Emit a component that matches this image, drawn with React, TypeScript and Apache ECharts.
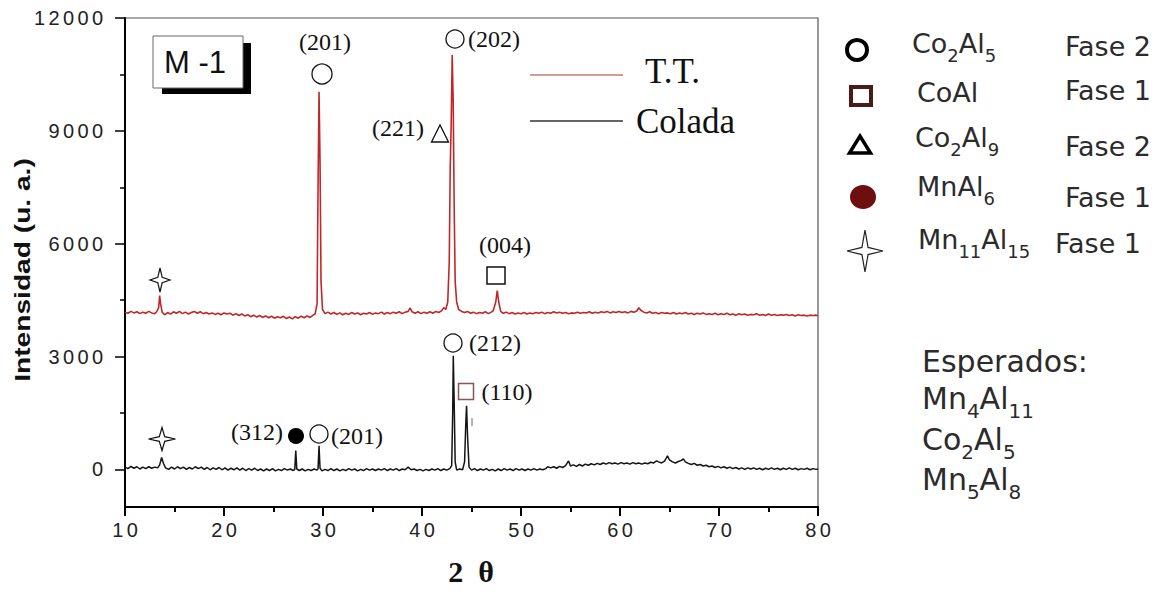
import { useEffect, useRef } from "react";
import * as echarts from "echarts";

// ---- Data ----
const seriesNames = ["T.T.", "Colada"];

const ttPattern: [number, number][] = [
  [10, 4180], [10.3, 4150], [10.6, 4200], [10.9, 4160], [11.2, 4190], [11.5, 4140], [11.8, 4180], [12.1, 4150],
  [12.4, 4200], [12.7, 4160], [13.0, 4140], [13.2, 4190], [13.4, 4300], [13.5, 4620], [13.6, 4400], [13.75, 4180],
  [14.0, 4110], [14.3, 4170], [14.6, 4130], [14.9, 4190], [15.2, 4150], [15.5, 4200], [15.8, 4140], [16.1, 4180],
  [16.4, 4130], [16.7, 4170], [17.0, 4200], [17.3, 4150], [17.6, 4190], [17.9, 4140], [18.2, 4170], [18.5, 4130],
  [18.8, 4160], [19.1, 4120], [19.4, 4150], [19.7, 4110], [20.0, 4160], [20.3, 4130], [20.6, 4150], [20.9, 4100],
  [21.2, 4140], [21.5, 4090], [21.8, 4130], [22.1, 4080], [22.4, 4110], [22.7, 4060], [23.0, 4100], [23.3, 4050],
  [23.6, 4090], [23.9, 4040], [24.2, 4080], [24.5, 4030], [24.8, 4070], [25.1, 4020], [25.4, 4060], [25.7, 4030],
  [26.0, 4070], [26.3, 4010], [26.6, 4050], [26.9, 4000], [27.2, 4060], [27.5, 4020], [27.8, 4070], [28.1, 4030],
  [28.4, 4080], [28.7, 4040], [29.0, 4100], [29.2, 4130], [29.4, 4400], [29.5, 7500], [29.6, 10040], [29.7, 8200],
  [29.8, 5000], [29.95, 4250], [30.2, 4140], [30.5, 4180], [30.8, 4130], [31.1, 4170], [31.4, 4120], [31.7, 4160],
  [32.0, 4110], [32.3, 4150], [32.6, 4120], [32.9, 4170], [33.2, 4130], [33.5, 4160], [33.8, 4110], [34.1, 4150],
  [34.4, 4130], [34.7, 4170], [35.0, 4120], [35.3, 4160], [35.6, 4140], [35.9, 4180], [36.2, 4130], [36.5, 4170],
  [36.8, 4140], [37.1, 4180], [37.4, 4150], [37.7, 4190], [38.0, 4140], [38.3, 4180], [38.6, 4200], [38.8, 4290],
  [39.0, 4190], [39.3, 4150], [39.6, 4190], [39.9, 4140], [40.2, 4180], [40.5, 4150], [40.8, 4190], [41.1, 4150],
  [41.4, 4200], [41.7, 4170], [42.0, 4220], [42.2, 4300], [42.4, 4250], [42.6, 4450], [42.75, 5500], [42.85, 8000],
  [42.95, 9200], [43.05, 11015], [43.15, 9800], [43.25, 7000], [43.35, 5000], [43.5, 4450], [43.7, 4250], [44.0, 4200],
  [44.3, 4170], [44.6, 4200], [44.9, 4150], [45.2, 4180], [45.5, 4140], [45.8, 4170], [46.1, 4150], [46.4, 4190],
  [46.7, 4140], [47.0, 4180], [47.2, 4220], [47.45, 4450], [47.6, 4755], [47.75, 4450], [47.95, 4200], [48.2, 4150],
  [48.5, 4180], [48.8, 4140], [49.1, 4170], [49.4, 4130], [49.7, 4160], [50.0, 4140], [50.3, 4170], [50.6, 4130],
  [50.9, 4160], [51.2, 4140], [51.5, 4170], [51.8, 4150], [52.1, 4180], [52.4, 4140], [52.7, 4170], [53.0, 4150],
  [53.3, 4190], [53.6, 4160], [53.9, 4180], [54.2, 4150], [54.5, 4170], [54.8, 4140], [55.1, 4160], [55.4, 4150],
  [55.7, 4180], [56.0, 4150], [56.3, 4170], [56.6, 4160], [56.9, 4190], [57.2, 4150], [57.5, 4180], [57.8, 4160],
  [58.1, 4190], [58.4, 4170], [58.7, 4200], [59.0, 4160], [59.3, 4190], [59.6, 4170], [59.9, 4200], [60.2, 4170],
  [60.5, 4190], [60.8, 4160], [61.1, 4200], [61.4, 4180], [61.7, 4210], [61.9, 4300], [62.1, 4230], [62.4, 4180],
  [62.7, 4160], [63.0, 4190], [63.3, 4150], [63.6, 4170], [63.9, 4140], [64.2, 4170], [64.5, 4150], [64.8, 4160],
  [65.1, 4140], [65.4, 4170], [65.7, 4130], [66.0, 4160], [66.3, 4140], [66.6, 4170], [66.9, 4130], [67.2, 4150],
  [67.5, 4120], [67.8, 4150], [68.1, 4130], [68.4, 4160], [68.7, 4120], [69.0, 4140], [69.3, 4120], [69.6, 4150],
  [69.9, 4110], [70.2, 4140], [70.5, 4120], [70.8, 4150], [71.1, 4110], [71.4, 4130], [71.7, 4100], [72.0, 4140],
  [72.3, 4110], [72.6, 4130], [72.9, 4100], [73.2, 4120], [73.5, 4110], [73.8, 4140], [74.1, 4100], [74.4, 4120],
  [74.7, 4090], [75.0, 4130], [75.3, 4100], [75.6, 4120], [75.9, 4090], [76.2, 4110], [76.5, 4100], [76.8, 4120],
  [77.1, 4090], [77.4, 4110], [77.7, 4080], [78.0, 4110], [78.3, 4090], [78.6, 4100], [78.9, 4080], [79.2, 4100],
  [79.5, 4090], [79.8, 4100], [80.0, 4090],
];

const coladaPattern: [number, number][] = [
  [10, 60], [10.3, 20], [10.6, 80], [10.9, 30], [11.2, 70], [11.5, 10], [11.8, 60], [12.1, 20], [12.4, 70], [12.7, 30],
  [13.0, 60], [13.3, 40], [13.5, 120], [13.7, 315], [13.9, 150], [14.1, 40], [14.4, 0], [14.7, 60], [15.0, 10],
  [15.3, 70], [15.6, 20], [15.9, 60], [16.2, 0], [16.5, 50], [16.8, 10], [17.1, 70], [17.4, 20], [17.7, 60], [18.0, 0],
  [18.3, 50], [18.6, -10], [18.9, 40], [19.2, 0], [19.5, 50], [19.8, -10], [20.1, 40], [20.4, -20], [20.7, 30],
  [21.0, -10], [21.3, 40], [21.6, -20], [21.9, 30], [22.2, -30], [22.5, 20], [22.8, -20], [23.1, 30], [23.4, -30],
  [23.7, 10], [24.0, -40], [24.3, 10], [24.6, -30], [24.9, 20], [25.2, -40], [25.5, 0], [25.8, -30], [26.1, 20],
  [26.4, -20], [26.7, 10], [27.0, -30], [27.15, 0], [27.25, 500], [27.35, 10], [27.6, -30], [27.9, 10], [28.2, -40],
  [28.5, 0], [28.8, -30], [29.1, 10], [29.4, -20], [29.5, 20], [29.6, 625], [29.7, 30], [29.9, -40], [30.2, 0],
  [30.5, -30], [30.8, 20], [31.1, -30], [31.4, 10], [31.7, -40], [32.0, 0], [32.3, -30], [32.6, 20], [32.9, -20],
  [33.2, 10], [33.5, -40], [33.8, 0], [34.1, -30], [34.4, 20], [34.7, -20], [35.0, 10], [35.3, -30], [35.6, 10],
  [35.9, -20], [36.2, 20], [36.5, -30], [36.8, 10], [37.1, -20], [37.4, 20], [37.7, -30], [38.0, 10], [38.3, -10],
  [38.6, 60], [38.9, -10], [39.2, 10], [39.5, -30], [39.8, 0], [40.1, -40], [40.4, 0], [40.7, -30], [41.0, 10],
  [41.3, -20], [41.6, 20], [41.9, -30], [42.2, 10], [42.5, -20], [42.8, 20], [43.0, 100], [43.1, 1500], [43.16, 3023],
  [43.25, 1800], [43.35, 200], [43.5, -20], [43.8, 10], [44.1, -10], [44.3, 200], [44.42, 1200], [44.5, 1690],
  [44.6, 900], [44.75, 60], [45.0, -20], [45.3, 20], [45.6, -30], [45.9, 10], [46.2, -20], [46.5, 20], [46.8, -30],
  [47.1, 0], [47.4, -40], [47.7, 10], [48.0, -30], [48.3, 20], [48.6, -20], [48.9, 10], [49.2, -30], [49.5, 20],
  [49.8, -20], [50.1, 10], [50.4, -30], [50.7, 10], [51.0, -20], [51.3, 20], [51.6, -20], [51.9, 10], [52.2, -10],
  [52.5, 20], [52.7, 70], [53.0, 40], [53.3, 70], [53.6, 30], [53.9, 80], [54.2, 50], [54.5, 100], [54.8, 225],
  [55.0, 90], [55.3, 120], [55.6, 80], [55.9, 130], [56.2, 90], [56.5, 140], [56.8, 110], [57.1, 150], [57.4, 120],
  [57.7, 160], [58.0, 130], [58.3, 170], [58.6, 140], [58.9, 180], [59.2, 150], [59.5, 170], [59.8, 140], [60.1, 180],
  [60.4, 150], [60.7, 170], [61.0, 140], [61.3, 180], [61.6, 150], [61.9, 170], [62.2, 140], [62.5, 170], [62.8, 150],
  [63.1, 190], [63.4, 170], [63.7, 225], [63.9, 200], [64.2, 170], [64.5, 220], [64.8, 360], [65.0, 250], [65.3, 200],
  [65.6, 170], [65.9, 210], [66.2, 240], [66.4, 280], [66.6, 200], [66.9, 160], [67.2, 130], [67.5, 160], [67.8, 110],
  [68.1, 130], [68.4, 90], [68.7, 110], [69.0, 70], [69.3, 90], [69.6, 50], [69.9, 80], [70.2, 40], [70.5, 70],
  [70.8, 30], [71.1, 60], [71.4, 20], [71.7, 50], [72.0, 10], [72.3, 40], [72.6, 0], [72.9, 40], [73.2, 10],
  [73.5, 40], [73.8, 0], [74.1, 30], [74.4, -10], [74.7, 30], [75.0, 0], [75.3, 40], [75.6, 0], [75.9, 30],
  [76.2, -10], [76.5, 30], [76.8, 0], [77.1, 40], [77.4, 0], [77.7, 30], [78.0, -10], [78.3, 20], [78.6, 0],
  [78.9, 30], [79.2, -10], [79.5, 20], [79.8, 0], [80.0, 10],
];

const yTickValues = [0, 3000, 6000, 9000, 12000];
const yMinorTickValues = [1500, 4500, 7500, 10500];
const xTickValues = [10, 20, 30, 40, 50, 60, 70, 80];

const phaseFormulas = ["Co_2Al_5", "CoAl", "Co_2Al_9", "MnAl_6", "Mn_11Al_15"];
const phaseLabels = ["Fase 2", "Fase 1", "Fase 2", "Fase 1", "Fase 1"];
const expectedTitle = "Esperados:";
const expectedPhases = ["Mn_4Al_11", "Co_2Al_5", "Mn_5Al_8"];
const sampleLabel = "M -1";
const planeLabels = ["(201)", "(202)", "(221)", "(004)", "(312)", "(201)", "(212)", "(110)"];

// ---- helpers ----
const spaced = (v: number) => `{t|${String(v).split("").join("\u2006")}}`;
const chem = (f: string) =>
  f
    .split(/_(\d+)/)
    .map((p, i) => (p === "" ? "" : i % 2 ? `{s|${p}}` : `{n|${p}}`))
    .join("");
const star = (cx: number, cy: number, hw: number, hh: number, k = 0.2) => [
  [cx, cy - hh], [cx + hw * k, cy - hh * k], [cx + hw, cy], [cx + hw * k, cy + hh * k],
  [cx, cy + hh], [cx - hw * k, cy + hh * k], [cx - hw, cy], [cx - hw * k, cy - hh * k],
];

const SERIF = "Liberation Serif";
const SANS = "Liberation Sans";
const LEG = "DejaVu Sans";

const tickRich = { t: { fontSize: 20, fontFamily: SANS, color: "#222", lineHeight: 22 } };

export default function App() {
  const ref = useRef<HTMLDivElement>(null);
  useEffect(() => {
    document.body.style.margin = "0";
    document.body.style.overflow = "hidden";
    const chart = echarts.init(ref.current!, null, { renderer: "svg" });

    const legRich = {
      n: { fontSize: 27, lineHeight: 34, verticalAlign: "top", fontFamily: LEG, fill: "#2b2b2b" },
      s: { fontSize: 18, lineHeight: 16, verticalAlign: "bottom", fontFamily: LEG, fill: "#2b2b2b" },
    };
    const expRich = {
      n: { fontSize: 30, lineHeight: 38, verticalAlign: "top", fontFamily: LEG, fill: "#2b2b2b" },
      s: { fontSize: 20, lineHeight: 18, verticalAlign: "bottom", fontFamily: LEG, fill: "#2b2b2b" },
    };

    const formulaPos = [[912, 47], [917, 96], [915, 141], [917, 190], [918, 243]];
    const fasePos = [[1065, 46], [1065, 90], [1065, 146], [1065, 197], [1055, 243]];
    const expPos = [402, 443, 483];

    const planePos = [
      [325, 42], [494, 39], [398, 128], [505, 245], [257, 432], [357, 436], [495, 343], [507, 392],
    ];

    const graphic: any[] = [];
    // sample box with shadow
    graphic.push({ type: "rect", shape: { x: 162, y: 43, width: 89, height: 51 }, style: { fill: "#000" } });
    graphic.push({ type: "rect", shape: { x: 153, y: 36, width: 90, height: 52 }, style: { fill: "#fff", stroke: "#666", lineWidth: 1 } });
    graphic.push({ type: "text", x: 195, y: 62, style: { text: sampleLabel, font: `31px ${SANS}`, fill: "#111", align: "center", verticalAlign: "middle" } });

    // inner legend
    graphic.push({ type: "line", shape: { x1: 530, y1: 75, x2: 623, y2: 75 }, style: { stroke: "#d59a9a", lineWidth: 2 } });
    graphic.push({ type: "line", shape: { x1: 530, y1: 121, x2: 623, y2: 121 }, style: { stroke: "#333", lineWidth: 1.5 } });
    graphic.push({ type: "text", x: 645, y: 71, style: { text: seriesNames[0], font: `35px ${SERIF}`, fill: "#111", align: "left", verticalAlign: "middle" } });
    graphic.push({ type: "text", x: 636, y: 121, style: { text: seriesNames[1], font: `35px ${SERIF}`, fill: "#111", align: "left", verticalAlign: "middle" } });

    // plane labels
    planeLabels.forEach((t, i) => {
      graphic.push({ type: "text", x: planePos[i][0], y: planePos[i][1], style: { text: t, font: `24px ${SERIF}`, fill: "#111", align: "center", verticalAlign: "middle" } });
    });

    // peak markers
    const ring = (cx: number, cy: number, r: number) => ({ type: "circle", shape: { cx, cy, r }, style: { fill: "#fff", stroke: "#111", lineWidth: 1.3 } });
    graphic.push(ring(322, 74, 10));
    graphic.push(ring(455, 39, 9));
    graphic.push(ring(453, 343, 9));
    graphic.push(ring(319, 434, 9));
    graphic.push({ type: "circle", shape: { cx: 296, cy: 436, r: 8 }, style: { fill: "#000" } });
    graphic.push({ type: "polygon", shape: { points: [[431.5, 142], [448.5, 142], [440, 125]] }, style: { fill: "none", stroke: "#111", lineWidth: 1.3 } });
    graphic.push({ type: "rect", shape: { x: 487, y: 267, width: 18, height: 17 }, style: { fill: "#fff", stroke: "#111", lineWidth: 1.5 } });
    graphic.push({ type: "rect", shape: { x: 458.5, y: 383.5, width: 15, height: 16 }, style: { fill: "#fff", stroke: "#8a5555", lineWidth: 1.5 } });
    graphic.push({ type: "line", shape: { x1: 472, y1: 418, x2: 472, y2: 426 }, style: { stroke: "#666", lineWidth: 1 } });
    graphic.push({ type: "polygon", shape: { points: star(160, 280, 10, 12, 0.22) }, style: { fill: "#fff", stroke: "#111", lineWidth: 1.2 } });
    graphic.push({ type: "polygon", shape: { points: star(162, 439, 13.5, 11.5, 0.2) }, style: { fill: "#fff", stroke: "#111", lineWidth: 1.2 } });

    // right legend symbols
    graphic.push({ type: "circle", shape: { cx: 857, cy: 50, r: 10 }, style: { fill: "none", stroke: "#000", lineWidth: 4 } });
    graphic.push({ type: "rect", shape: { x: 851, y: 87, width: 20, height: 18 }, style: { fill: "none", stroke: "#4a1a1a", lineWidth: 4 } });
    graphic.push({ type: "polygon", shape: { points: [[849.5, 153], [870.5, 153], [860, 136]] }, style: { fill: "none", stroke: "#000", lineWidth: 3.5, lineJoin: "miter" } });
    graphic.push({ type: "ellipse", shape: { cx: 863, cy: 197, rx: 13, ry: 12 }, style: { fill: "#6e0e0e" } });
    graphic.push({ type: "polygon", shape: { points: star(865, 251, 18, 21, 0.17) }, style: { fill: "#fff", stroke: "#222", lineWidth: 1.2 } });

    phaseFormulas.forEach((f, i) => {
      graphic.push({ type: "text", x: formulaPos[i][0], y: formulaPos[i][1], style: { text: chem(f), rich: legRich, align: "left", verticalAlign: "middle" } });
      graphic.push({ type: "text", x: fasePos[i][0], y: fasePos[i][1], style: { text: phaseLabels[i], font: `27px ${LEG}`, fill: "#2b2b2b", align: "left", verticalAlign: "middle" } });
    });
    graphic.push({ type: "text", x: 922, y: 361, style: { text: expectedTitle, font: `30px ${LEG}`, fill: "#2b2b2b", align: "left", verticalAlign: "middle" } });
    expectedPhases.forEach((f, i) => {
      graphic.push({ type: "text", x: 922, y: expPos[i], style: { text: chem(f), rich: expRich, align: "left", verticalAlign: "middle" } });
    });

    // axis names
    graphic.push({ type: "text", x: 22, y: 270, rotation: Math.PI / 2, scaleX: 1.28, style: { text: "Intensidad (u. a.)", font: `bold 22px ${SANS}`, fill: "#111", align: "center", verticalAlign: "middle" } });
    graphic.push({ type: "text", x: 471, y: 571, style: { text: "2\u2002θ", font: `bold 30px ${SERIF}`, fill: "#111", align: "center", verticalAlign: "middle" } });

    chart.setOption({
      animation: false,
      backgroundColor: "#fff",
      grid: { left: 125, right: 343, top: 18, bottom: 85, show: true, borderColor: "#555", borderWidth: 1.2, backgroundColor: "transparent" },
      xAxis: {
        type: "value",
        min: 10,
        max: 80,
        interval: 10,
        axisLine: { onZero: false, lineStyle: { color: "#000", width: 2 } },
        axisTick: { show: true, inside: false, length: 9, lineStyle: { color: "#000", width: 2 } },
        minorTick: { show: true, splitNumber: 2, length: 5, lineStyle: { color: "#000", width: 2 } },
        axisLabel: { margin: 12, fontSize: 20, fontFamily: SANS, color: "#222", formatter: (v: number) => spaced(v), rich: tickRich },
        splitLine: { show: false },
      },
      yAxis: [
        {
          type: "value",
          min: -1000,
          max: 12000,
          axisLine: { show: true, onZero: false, lineStyle: { color: "#000", width: 2 } },
          axisTick: { show: true, inside: false, length: 10, lineStyle: { color: "#000", width: 1.5 }, customValues: yTickValues },
          axisLabel: { margin: 22, fontSize: 20, fontFamily: SANS, color: "#222", formatter: (v: number) => spaced(v), customValues: yTickValues, rich: tickRich },
          splitLine: { show: false },
        },
        {
          type: "value",
          position: "left",
          min: -1000,
          max: 12000,
          axisLine: { show: false },
          axisTick: { show: true, inside: false, length: 5, lineStyle: { color: "#000", width: 1.5 }, customValues: yMinorTickValues },
          axisLabel: { show: false },
          splitLine: { show: false },
        },
      ],
      series: [
        {
          name: seriesNames[0],
          type: "line",
          data: ttPattern,
          showSymbol: false,
          lineStyle: { color: "#c02828", width: 1.6 },
          itemStyle: { color: "#c02828" },
        },
        {
          name: seriesNames[1],
          type: "line",
          data: coladaPattern,
          showSymbol: false,
          lineStyle: { color: "#141414", width: 1.5 },
          itemStyle: { color: "#141414" },
        },
      ],
      graphic,
    });
    return () => chart.dispose();
  }, []);
  return <div ref={ref} style={{ width: 1161, height: 592 }} />;
}
